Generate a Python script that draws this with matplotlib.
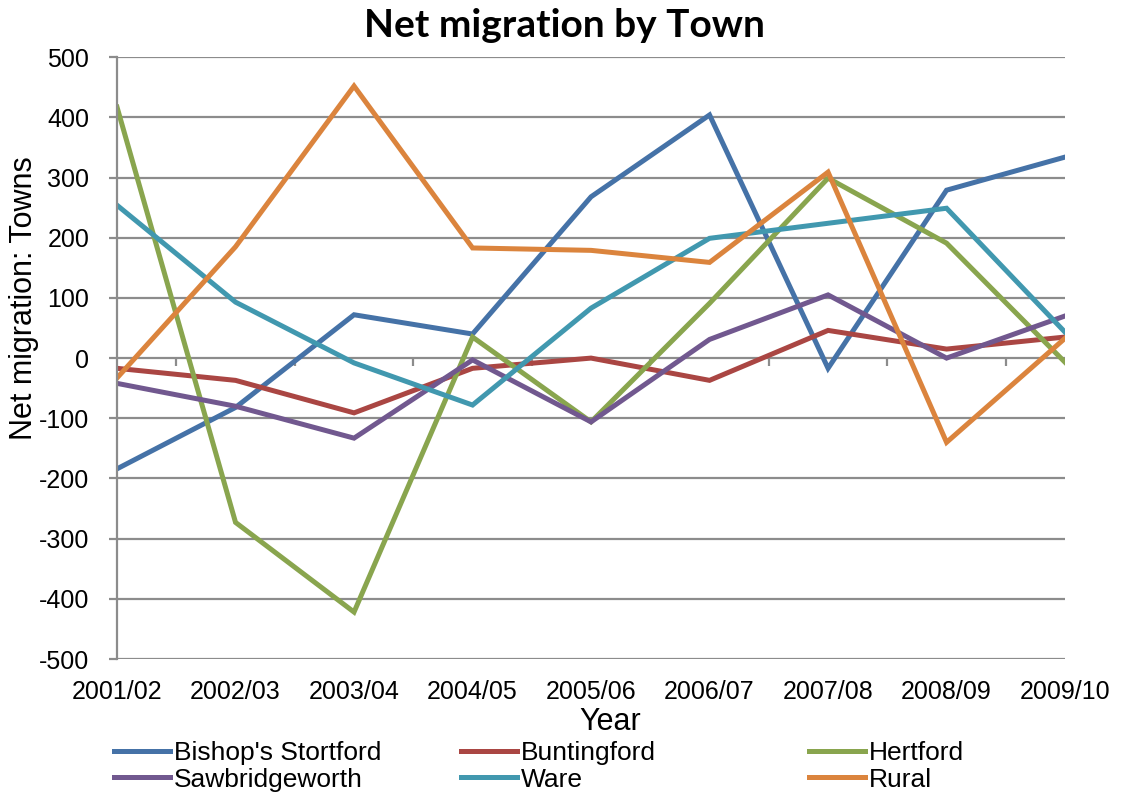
import numpy as np
import matplotlib
matplotlib.use('Agg')
import matplotlib.pyplot as plt

# Net migration by town, East Herts
years = ['2001/02', '2002/03', '2003/04', '2004/05', '2005/06',
         '2006/07', '2007/08', '2008/09', '2009/10']

bishops = [-184, -82, 72, 40, 268, 404, -17, 279, 334]
buntingford = [-17, -37, -91, -17, 0, -37, 46, 15, 35]
hertford = [417, -273, -422, 35, -106, 91, 299, 191, -7]
sawbridgeworth = [-42, -80, -133, -3, -106, 31, 105, 0, 70]
ware = [254, 93, -8, -78, 83, 199, 224, 249, 43]
rural = [-33, 185, 452, 183, 179, 159, 309, -140, 33]

names = ["Bishop's Stortford", 'Buntingford', 'Hertford',
         'Sawbridgeworth', 'Ware', 'Rural']
colors = ['#4572A7', '#AA4643', '#89A54E', '#71588F', '#4198AF', '#DB843D']

plt.rcParams['font.family'] = ['Liberation Sans', 'DejaVu Sans']
plt.rcParams['axes.unicode_minus'] = False

fig = plt.figure(figsize=(11.21, 7.94), dpi=100)
ax = fig.add_axes([0.1044, 0.170, 0.8457, 0.758])

x = np.arange(len(years))
series = [bishops, buntingford, hertford, sawbridgeworth, ware, rural]
handles = []
for vals, name, col in zip(series, names, colors):
    h, = ax.plot(x, vals, color=col, lw=3.6, label=name, solid_joinstyle='miter')
    handles.append(h)

ax.set_xlim(0, len(years) - 1)
ax.set_ylim(-500, 500)
ax.set_yticks(np.arange(-500, 501, 100))
ax.yaxis.grid(True, color='#8c8c8c', lw=1.6)
ax.set_axisbelow(True)

ax.set_xticks(x)
ax.set_xticklabels(years, fontsize=18)
ax.tick_params(axis='x', length=0, pad=15)
ax.tick_params(axis='y', labelsize=18, length=6, width=1.6, color='#8c8c8c', pad=14)

for s in ['top', 'right', 'bottom']:
    ax.spines[s].set_visible(False)
ax.spines['left'].set_color('#8c8c8c')
ax.spines['left'].set_linewidth(1.6)

# small tick marks on the zero line between categories
sec = ax.secondary_xaxis(0.5)
sec.set_xticks(x[:-1] + 0.5)
sec.set_xticklabels([])
sec.tick_params(direction='in', length=6, width=1.6, color='#8c8c8c')
sec.spines['bottom'].set_visible(False)
sec.spines['top'].set_visible(False)

fig.text(0.5036, 0.9685, 'Net migration by Town', fontsize=28, fontweight='bold',
         family='Lato', ha='center', va='center')
fig.text(0.0215, 0.6247, 'Net migration: Towns', fontsize=22, rotation=90,
         ha='center', va='center')
fig.text(0.544, 0.0907, 'Year', fontsize=22, ha='center', va='center')

# three legend columns, filled row by row like Excel
col_x = [0.0, 0.366, 0.733]
for k, cx in enumerate(col_x):
    leg = ax.legend(handles=[handles[k], handles[k + 3]], loc='upper left',
                    bbox_to_anchor=(cx - 0.003, -0.137), frameon=False,
                    fontsize=19, handlelength=2.1, handletextpad=0.15,
                    labelspacing=0.08, borderaxespad=0, borderpad=0)
    if k < 2:
        ax.add_artist(leg)

fig.savefig('out.png', dpi=100)
